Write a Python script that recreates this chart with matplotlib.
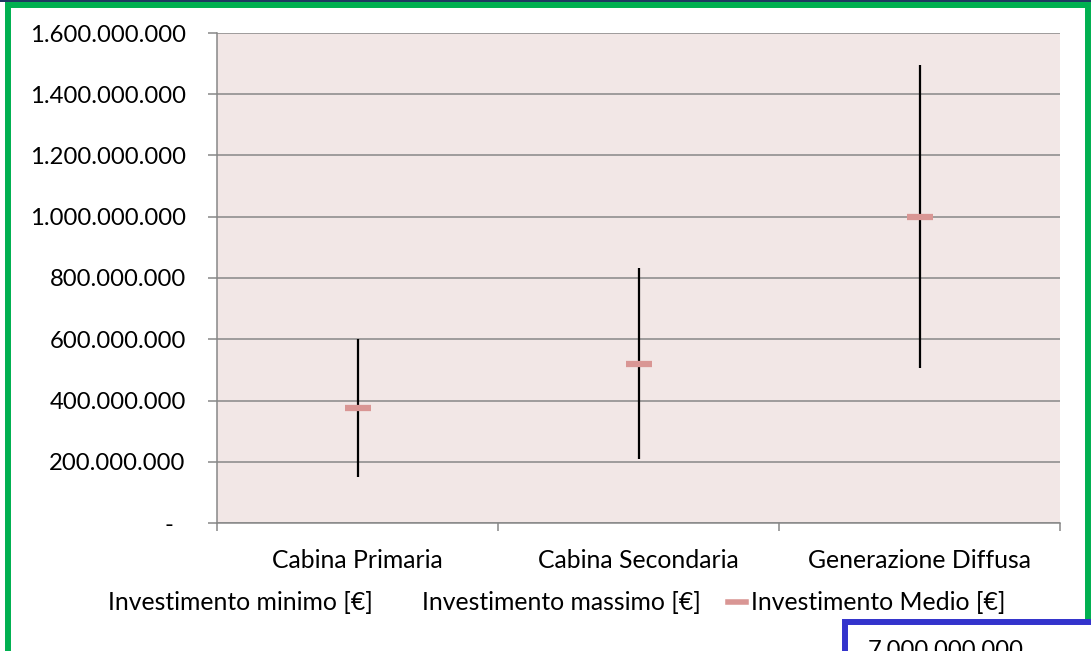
import matplotlib.pyplot as plt
from matplotlib.lines import Line2D
from matplotlib.patches import Rectangle
from matplotlib.ticker import FuncFormatter, FixedLocator

plt.rcParams["font.family"] = ["Lato", "DejaVu Sans"]

# Investimenti per tipologia di intervento [€]
categories = ["Cabina Primaria", "Cabina Secondaria", "Generazione Diffusa"]
invest_min = [150_000_000, 210_000_000, 505_000_000]
invest_max = [600_000_000, 832_000_000, 1_495_000_000]
invest_medio = [375_000_000, 520_000_000, 1_000_000_000]
extra_label = "7.000.000.000"

W, H = 1091, 651
PLOT_BG = "#f2e7e6"
GRID = "#878787"
MEDIO = "#d99694"
TICK_FS = 17.2
TEXT_FS = 17.8


def euro_fmt(v, _pos):
    if abs(v) < 1:
        return "-  "
    return f"{v:,.0f}".replace(",", ".")


fig = plt.figure(figsize=(W / 100, H / 100), dpi=100)
ax = fig.add_axes([217 / W, (H - 523) / H, 843 / W, (523 - 33) / H])
ax.set_facecolor(PLOT_BG)

xs = list(range(1, len(categories) + 1))
ax.vlines(xs, invest_min, invest_max, color="black", linewidth=1.6, zorder=3)
ax.plot(xs, invest_medio, linestyle="none", marker="_", markersize=19,
        markeredgewidth=4.5, color=MEDIO, zorder=4)

ax.set_xlim(0.5, len(categories) + 0.5)
ax.set_ylim(0, 1_600_000_000)
ax.yaxis.set_major_locator(FixedLocator([i * 200_000_000 for i in range(9)]))
ax.yaxis.set_major_formatter(FuncFormatter(euro_fmt))
ax.grid(axis="y", color=GRID, linewidth=1.1)
ax.set_axisbelow(True)

# category boundaries carry the ticks, labels sit in the middle
ax.xaxis.set_major_locator(FixedLocator([x + 0.5 for x in range(len(categories) + 1)]))
ax.xaxis.set_major_formatter(FuncFormatter(lambda v, p: ""))
ax.xaxis.set_minor_locator(FixedLocator(xs))
ax.set_xticklabels(categories, minor=True)
ax.tick_params(axis="x", which="major", length=6, width=1.1, color=GRID)
ax.tick_params(axis="x", which="minor", length=0, pad=19, labelsize=TEXT_FS)
ax.tick_params(axis="y", length=6.5, width=1.1, color=GRID, pad=16, labelsize=TICK_FS)

for side in ["top", "right"]:
    ax.spines[side].set_visible(False)
for side in ["left", "bottom"]:
    ax.spines[side].set_color(GRID)
    ax.spines[side].set_linewidth(1.1)

handles = [
    Line2D([], [], linestyle="none"),
    Line2D([], [], linestyle="none"),
    Line2D([], [], color=MEDIO, linewidth=4),
]
labels = ["Investimento minimo [€]", "Investimento massimo [€]", "Investimento Medio [€]"]
fig.legend(handles, labels, loc="center", bbox_to_anchor=(0.5, (H - 603) / H),
           ncol=3, frameon=False, fontsize=TEXT_FS, handlelength=0.7,
           handletextpad=0.2, columnspacing=1.1)

# outer frame and neighbouring box
fig.add_artist(Rectangle((0, (H - 1.5) / H), 1, 1.5 / H, transform=fig.transFigure,
                         facecolor="#1f3a60", edgecolor="none"))
fig.add_artist(Rectangle((8 / W, -0.2), (1088 - 8) / W, (H - 4.5) / H + 0.2,
                         transform=fig.transFigure, fill=False,
                         edgecolor="#00b050", linewidth=4.3))
fig.add_artist(Rectangle((845 / W, -0.2), 0.5, (H - 622) / H + 0.2,
                         transform=fig.transFigure, facecolor="white",
                         edgecolor="#3333cc", linewidth=4.3, zorder=5))
fig.text(868 / W, (H - 640) / H, extra_label, fontsize=TICK_FS, va="top",
         ha="left", zorder=6)

fig.savefig("out.png", dpi=100)
